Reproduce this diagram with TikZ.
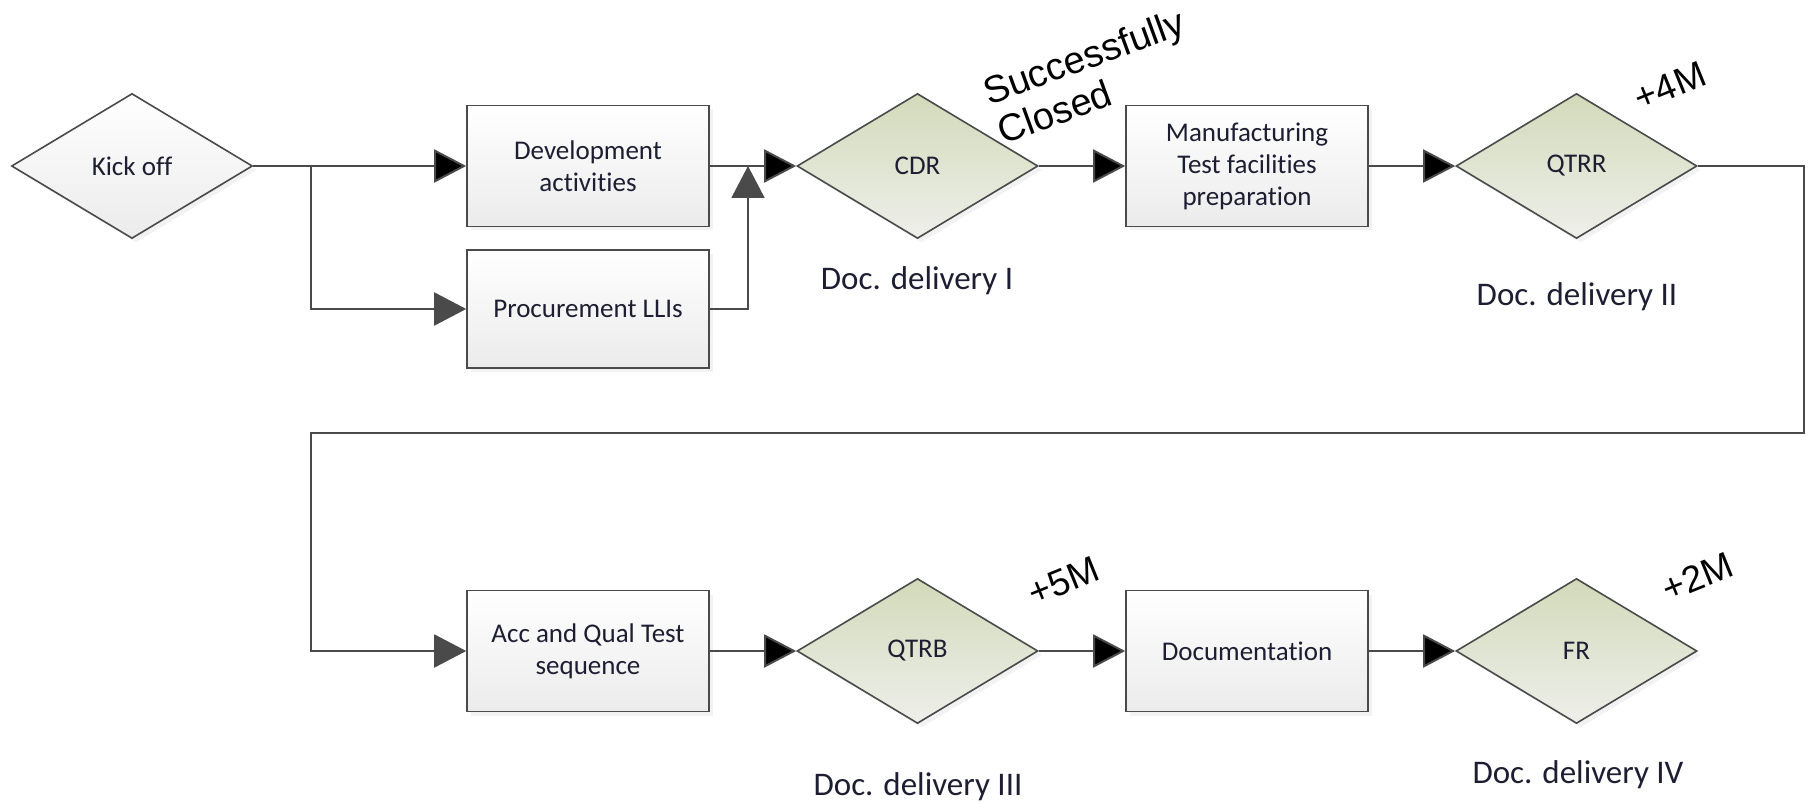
\documentclass[tikz,border=0pt]{standalone}
\usepackage{fontspec}
\setmainfont{Carlito}[Ligatures={NoCommon}]
\newfontfamily\arialfont{Liberation Sans}
\usetikzlibrary{arrows.meta,shapes.geometric,shadows}
\definecolor{linegray}{HTML}{4A4A4A}
\definecolor{olivetop}{HTML}{D2DABA}
\definecolor{olivebot}{HTML}{EEEFEA}
\definecolor{boxbot}{HTML}{EBEBEB}
\definecolor{textblue}{HTML}{1E1E32}

\begin{document}
\begin{tikzpicture}[x=1pt,y=-1pt,node distance=329.5pt,
			thick,
			task node/.style={rectangle,draw=linegray,line width=1.6pt,
				top color=white,bottom color=boxbot,align=center,
				minimum width=242pt,minimum height=121pt,
				font=\fontsize{27}{32}\selectfont,text=textblue,
				drop shadow={shadow xshift=4pt,shadow yshift=-4pt,fill=black!10}},
			gate node/.style={diamond,draw=linegray,line width=1.6pt,
				top color=olivetop,bottom color=olivebot,inner sep=0pt,
				minimum width=241pt,minimum height=145pt,
				font=\fontsize{27}{32}\selectfont,text=textblue,
				drop shadow={shadow xshift=4pt,shadow yshift=-4pt,fill=black!10}},
			start node/.style={gate node,top color=white,bottom color=boxbot},
			delivery/.style={font=\fontsize{33}{40}\selectfont,text=textblue},
			remark/.style={font=\arialfont\fontsize{37}{42}\selectfont,
				rotate=22,align=left},
			line/.style={draw=linegray,line width=2pt,
				-{Triangle[length=32pt,width=33pt]}}]
			
			\useasboundingbox (0,0) rectangle (1810,805);
			
			% first row
			\node[start node] (kick) at (132,166) {Kick off};
			\node[task node] (dev) at (588,166) {Development\\activities};
			\node[task node,minimum height=118pt] (proc) [below of=dev,node distance=143pt] {Procurement LLIs};
			\node[gate node] (cdr) [right of=dev] {CDR};
			\node[task node] (manu) [right of=cdr] {Manufacturing\\Test facilities\\preparation};
			\node[gate node] (qtrr) [right of=manu] {QTRR};
			
			% second row
			\node[task node] (acc) at (588,651) {Acc and Qual Test\\sequence};
			\node[gate node] (qtrb) [right of=acc] {QTRB};
			\node[task node] (docu) [right of=qtrb] {Documentation};
			\node[gate node] (fr) [right of=docu] {FR};
			
			% deliveries and remarks
			\node[delivery] (dd1) at (917,281) {Doc. delivery I};
			\node[delivery] (dd2) at (1577,297) {Doc. delivery II};
			\node[delivery] (dd3) at (918,787) {Doc. delivery III};
			\node[delivery] (dd4) at (1578,775) {Doc. delivery IV};
			\node[remark,rotate=-2,font=\arialfont\fontsize{38}{42}\selectfont] (closed) at (1091,76) {Successfully\\Closed};
			\node[remark] (plus4) at (1670,86) {+4M};
			\node[remark] (plus5) at (1064,581) {+5M};
			\node[remark] (plus2) at (1697,577) {+2M};
			
			\coordinate (split) at (311,166);
			\coordinate (join) at (748,166);
			\coordinate (turnA) at (1804,166);
			\coordinate (turnB) at (311,433);
			
			\path[line]
			(kick) edge (dev)
			(dev) edge (cdr)
			(cdr) edge (manu)
			(manu) edge (qtrr)
			(acc) edge (qtrb)
			(qtrb) edge (docu)
			(docu) edge (fr);
			\draw[line] (split) |- (proc);
			\draw[line] (proc) -| (join);
			\draw[line] (qtrr) -- (turnA) |- (turnB) |- (acc);
		\end{tikzpicture}
\end{document}
